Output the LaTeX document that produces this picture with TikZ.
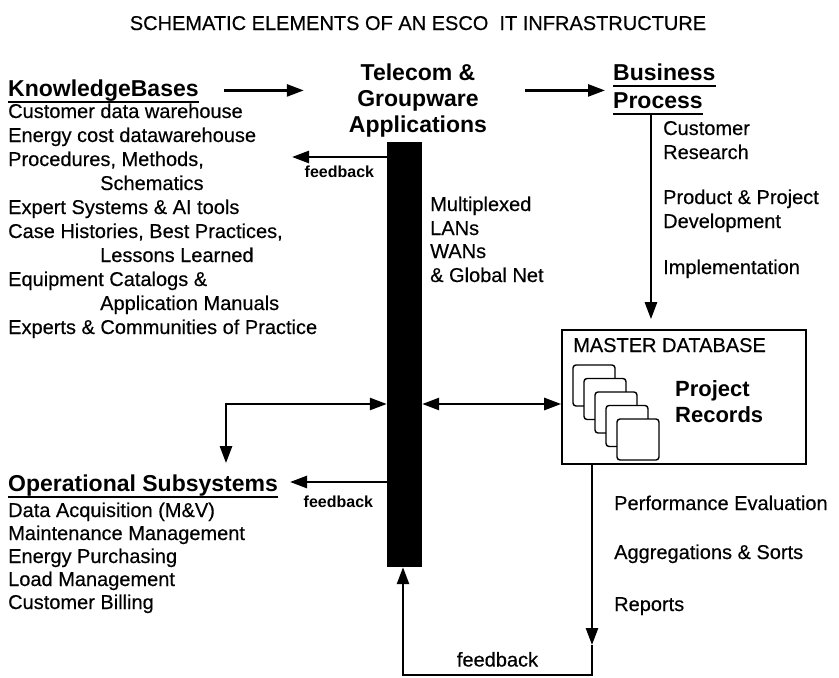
\documentclass[tikz,border=0pt]{standalone}
\usepackage{fontspec}
\setmainfont{Liberation Sans}[UprightFeatures={FakeBold=0.4}]
\usetikzlibrary{arrows.meta,calc}

\tikzset{
  txt/.style={anchor=base west, inner sep=0pt, font=\fontsize{20}{24}\selectfont},
  hd/.style={anchor=base west, inner sep=0pt, text depth=5.5pt, font=\fontsize{23}{27}\selectfont\bfseries},
  fb/.style={inner sep=0pt, font=\fontsize{16}{19}\selectfont\bfseries},
  uline/.style={line width=2pt},
  arr/.style={line width=2.6pt, -{Triangle[length=17pt,width=12pt]}},
  arrs/.style={line width=2.6pt, {Triangle[length=17pt,width=12pt]}-{Triangle[length=17pt,width=12pt]}},
  rec/.style={fill=white, line width=1.4pt, rounded corners=3pt}
}

\begin{document}
\begin{tikzpicture}[x=1pt,y=-1pt]
\useasboundingbox (0,0) rectangle (839,678);

\node[inner sep=0pt, anchor=base, font=\fontsize{20}{24}\selectfont] (title) at (418,30) {SCHEMATIC ELEMENTS OF AN ESCO\ \ IT INFRASTRUCTURE};

% knowledge bases
\node[hd] (kb) at (8,96) {KnowledgeBases};
\draw[uline] (kb.south west) -- (kb.south east);
\foreach \x/\y/\t [count=\i] in {8/118/Customer data warehouse, 8/142/Energy cost datawarehouse,
  8/166/{Procedures, Methods,}, 100/190/Schematics, 8/214/Expert Systems \& AI tools,
  8/238/{Case Histories, Best Practices,}, 100/262/Lessons Learned, 8/286/Equipment Catalogs \&,
  100/310/Application Manuals, 8/334/Experts \& Communities of Practice}
  \node[txt] (kb\i) at (\x,\y) {\t};

% applications and business process
\node[inner sep=0pt, anchor=north, align=center, font=\fontsize{23}{26}\selectfont\bfseries] (tele) at (418,64) {Telecom \&\\Groupware\\Applications};
\node[hd] (bpa) at (613,80) {Business};
\node[hd] (bpb) at (613,108) {Process};
\draw[uline] (bpa.south west) -- (bpa.south east);
\draw[uline] (bpb.south west) -- (bpb.south east);
\foreach \y/\t [count=\i] in {135/Customer, 159/Research, 204/Product \& Project, 228/Development, 274/Implementation}
  \node[txt] (bp\i) at (663,\y) {\t};

\draw[arr] ([xshift=25pt]kb.east) -- ($(kb.east -| tele.west)+(-45,0)$);
\draw[arr] ($(kb.east -| tele.east)+(38,0)$) -- ($(kb.east -| bpa.west)+(-8,0)$);

% network bus
\node[fill=black, inner sep=0pt, minimum width=35pt, minimum height=425pt] (bus) at (404.5,354.5) {};
\foreach \y/\t [count=\i] in {211/Multiplexed, 235/LANs, 258/WANs, 282/\& Global Net}
  \node[txt] (net\i) at (430,\y) {\t};

% master database
\node[draw, line width=1.6pt, inner sep=0pt, minimum width=244pt, minimum height=134pt] (db) at (684,397) {};
\node[txt] (dbt) at (573,352) {MASTER DATABASE};
\foreach \i in {0,...,4}
  \draw[rec] (573+11*\i,365+13.5*\i) rectangle ++(42,41);
\node[inner sep=0pt, anchor=north west, align=left, font=\fontsize{22}{26}\selectfont\bfseries] (prj) at (675,380) {Project\\Records};

\coordinate (bpx) at ([xshift=-7pt]bpb.south);
\draw[arr] (bpx) -- ($(bpx |- db.north)+(0,-10)$);

% feedback to knowledge bases
\coordinate (fbk) at (292,157);
\draw[arr] (fbk -| bus.west) -- (fbk) node[fb, midway, below=8pt] (fbl1) {feedback};

% operational subsystems
\node[hd] (os) at (8,491) {Operational Subsystems};
\draw[uline] (os.south west) -- (os.south east);
\foreach \y/\t [count=\i] in {517/Data Acquisition (M\&V), 540/Maintenance Management, 563/Energy Purchasing,
  586/Load Management, 609/Customer Billing}
  \node[txt] (os\i) at (8,\y) {\t};

\coordinate (osturn) at (226,404);
\draw[arrs] (bus.west |- osturn) -- (osturn) -- ($(osturn |- os.north)+(0,-11)$);
\draw[arrs] (bus.east |- osturn) -- (db.west |- osturn);

\coordinate (fbo) at (290,482);
\draw[arr] (fbo -| bus.west) -- (fbo) node[fb, midway, below=13pt] (fbl2) {feedback};

% outputs and loop back
\foreach \y/\t [count=\i] in {510/Performance Evaluation, 559/Aggregations \& Sorts, 611/Reports}
  \node[txt] (out\i) at (614,\y) {\t};

\coordinate (lpa) at (592,675);
\coordinate (lpb) at (403,675);
\coordinate (lpm) at (592,645);
\draw[arr] (db.south -| lpa) -- (lpm);
\draw[arr] (lpm) -- (lpa) -- (lpb) node[midway, above=7pt, inner sep=0pt, font=\fontsize{20}{24}\selectfont] (fbl3) {feedback} -- (lpb |- bus.south);
\end{tikzpicture}
\end{document}
